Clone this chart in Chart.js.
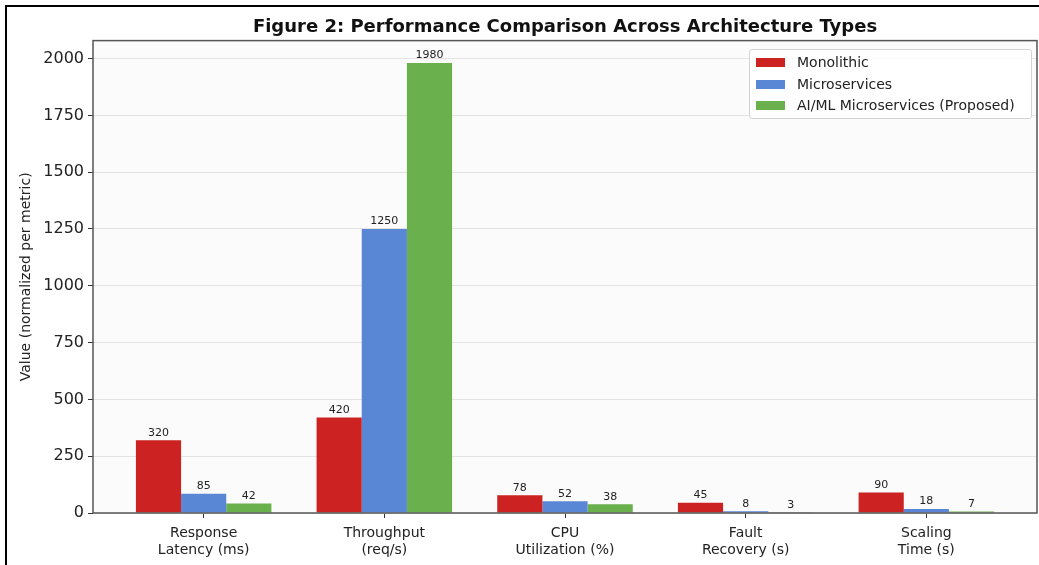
<!DOCTYPE html>
<html>
<head>
<meta charset="utf-8">
<script src="https://cdn.jsdelivr.net/npm/chart.js@4/dist/chart.umd.min.js"></script>
<style>
    body { margin: 0; background: #fff; }
    #wrap { position: relative; width: 1039px; height: 565px; }
    #legend {
        position: absolute; left: 749px; top: 49px; width: 281px; height: 68px;
        border: 1px solid #d4d4d4; border-radius: 3px; background: rgba(255,255,255,0.85);
        font-family: "DejaVu Sans", sans-serif; font-size: 14px; color: #222;
    }
    .fila { position: absolute; left: 0; height: 20px; line-height: 20px; white-space: nowrap; }
    .parche { position: absolute; left: 6px; top: 6px; width: 29px; height: 9px; }
    .texto { position: absolute; left: 47px; top: 0; }
</style>
</head>
<body>
<div id="wrap">
    <canvas id="grafico"></canvas>
    <div id="legend"></div>
</div>
<script>
// ==========================================
// Figure 2: performance per architecture type
// ==========================================
const categories = [
    ['Response', 'Latency (ms)'],
    ['Throughput', '(req/s)'],
    ['CPU', 'Utilization (%)'],
    ['Fault', 'Recovery (s)'],
    ['Scaling', 'Time (s)']
];
const monolithic = [320, 420, 78, 45, 90];
const microservices = [85, 1250, 52, 8, 18];
const aimlMicroservices = [42, 1980, 38, 3, 7];
const yTicks = [0, 250, 500, 750, 1000, 1250, 1500, 1750, 2000];

const seriesNames = ['Monolithic', 'Microservices', 'AI/ML Microservices (Proposed)'];
const COLOR_MONO = '#cc2222';
const COLOR_MICRO = '#5a87d5';
const COLOR_AIML = '#6ab04c';
const FONT = '"DejaVu Sans", sans-serif';

// bars sit on a linear x axis (0..4) so the side margins match the original
function toPoints(values) {
    return values.map((v, i) => ({ x: i, y: v }));
}

// white page + the black frame lines on the left and top of the picture
const pagePlugin = {
    id: 'page',
    beforeDraw(chart) {
        const { ctx, chartArea: a } = chart;
        ctx.save();
        ctx.fillStyle = '#ffffff';
        ctx.fillRect(0, 0, chart.width, chart.height);
        ctx.fillStyle = '#fbfbfb';
        ctx.fillRect(a.left, a.top, a.right - a.left, a.bottom - a.top);
        ctx.strokeStyle = '#000';
        ctx.lineWidth = 2;
        ctx.beginPath();
        ctx.moveTo(6, chart.height);
        ctx.lineTo(6, 6);
        ctx.lineTo(chart.width, 6);
        ctx.stroke();
        ctx.restore();
    },
    afterDatasetsDraw(chart) {
        const { ctx, chartArea: a } = chart;
        ctx.save();
        // value labels on top of each bar
        ctx.font = '11px ' + FONT;
        ctx.fillStyle = '#222';
        ctx.textAlign = 'center';
        ctx.textBaseline = 'bottom';
        chart.data.datasets.forEach((ds, di) => {
            chart.getDatasetMeta(di).data.forEach((bar, i) => {
                ctx.fillText(String(ds.data[i].y), bar.x, bar.y - 2);
            });
        });
        // axes frame
        ctx.strokeStyle = '#555';
        ctx.lineWidth = 1.5;
        ctx.strokeRect(a.left, a.top, a.right - a.left, a.bottom - a.top);
        ctx.restore();
    }
};

function buildLegend() {
    const colors = [COLOR_MONO, COLOR_MICRO, COLOR_AIML];
    const box = document.getElementById('legend');
    seriesNames.forEach((name, i) => {
        const fila = document.createElement('div');
        fila.className = 'fila';
        fila.style.top = (2 + i * 21.5) + 'px';
        fila.innerHTML = `<span class="parche" style="background:${colors[i]}"></span><span class="texto">${name}</span>`;
        box.appendChild(fila);
    });
}

function renderChart() {
    const ctx = document.getElementById('grafico').getContext('2d');
    const barStyle = { borderWidth: 0, categoryPercentage: 0.75, barPercentage: 1.0 };

    new Chart(ctx, {
        type: 'bar',
        data: {
            datasets: [
                { label: seriesNames[0], data: toPoints(monolithic), backgroundColor: COLOR_MONO, ...barStyle },
                { label: seriesNames[1], data: toPoints(microservices), backgroundColor: COLOR_MICRO, ...barStyle },
                { label: seriesNames[2], data: toPoints(aimlMicroservices), backgroundColor: COLOR_AIML, ...barStyle }
            ]
        },
        options: {
            responsive: true,
            maintainAspectRatio: false,
            animation: false,
            layout: { padding: { left: 0, right: 2, top: 0, bottom: 0 } },
            plugins: {
                legend: { display: false },
                tooltip: { enabled: false },
                title: {
                    display: true,
                    fullSize: false,
                    text: 'Figure 2: Performance Comparison Across Architecture Types',
                    color: '#111',
                    font: { family: FONT, size: 18, weight: 'bold' },
                    padding: { top: 17, bottom: 2 }
                }
            },
            scales: {
                x: {
                    type: 'linear',
                    offset: false,
                    min: -0.6125,
                    max: 4.6125,
                    afterBuildTicks: (s) => { s.ticks = categories.map((_, i) => ({ value: i })); },
                    afterFit: (s) => { s.height = 52; },
                    border: { display: false },
                    grid: { offset: false, drawOnChartArea: false, tickLength: 5, tickColor: '#333', lineWidth: 1 },
                    ticks: {
                        autoSkip: false, maxRotation: 0, padding: 7,
                        color: '#222', font: { family: FONT, size: 14, lineHeight: 1.2 },
                        callback: (v) => categories[v]
                    }
                },
                y: {
                    min: 0,
                    max: 2079,
                    afterBuildTicks: (s) => { s.ticks = yTicks.map(v => ({ value: v })); },
                    afterFit: (s) => { s.width = 93; },
                    border: { display: false },
                    grid: { color: '#e4e4e4', lineWidth: 1, tickLength: 5, tickColor: '#333' },
                    ticks: { padding: 4, color: '#222', font: { family: FONT, size: 16 }, callback: (v) => String(v) },
                    title: {
                        display: true,
                        text: 'Value (normalized per metric)',
                        color: '#222',
                        font: { family: FONT, size: 14 },
                        padding: { top: 18, bottom: 4 }
                    }
                }
            }
        },
        plugins: [pagePlugin]
    });
}

buildLegend();
renderChart();
</script>
</body>
</html>
